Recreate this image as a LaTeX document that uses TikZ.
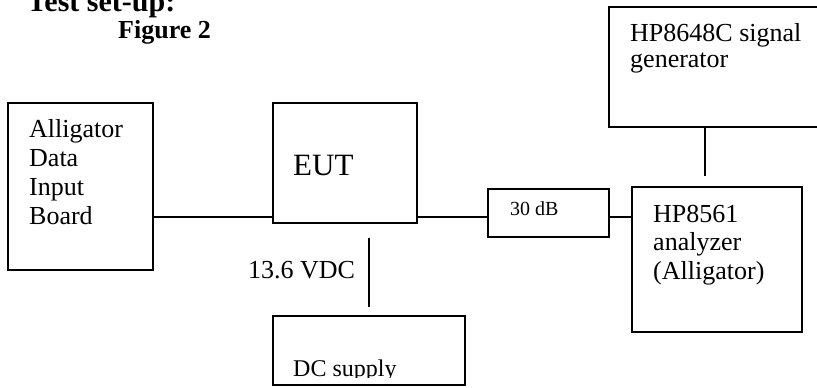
\documentclass[tikz,border=0pt]{standalone}
\usepackage{fontspec}
\setmainfont{Liberation Serif}
\usepackage{tikz}
\tikzset{blk/.style={draw,line width=1.4pt,inner sep=0pt},
txt/.style={anchor=base west,inner sep=0pt,align=left,font=\fontsize{26}{29}\selectfont},
wire/.style={line width=1.4pt}}

\begin{document}
\begin{tikzpicture}[x=1pt,y=-1pt]
\clip (0,0) rectangle (817,388);
\foreach \name/\cx/\cy/\w/\h in {board/80.5/186.5/145/167,eut/345/163/144/120,att/548.5/213/121/48,
analyzer/717/259.5/170/145,siggen/719.5/67/221/120,supply/369/350.5/192/69}
\node[blk,minimum width=\w pt,minimum height=\h pt] (\name) at (\cx,\cy) {};
\node[txt,font=\bfseries\fontsize{30}{34}\selectfont] (title) at (27,11) {Test set-up:};
\node[txt,font=\bfseries\fontsize{26}{30}\selectfont] (fig) at (118,38) {Figure 2};
\node[txt] (board-txt) at (29,224) {Alligator\\Data\\Input\\Board};
\node[txt,font=\fontsize{31}{34}\selectfont] (eut-txt) at (293,175) {EUT};
\node[txt,font=\fontsize{20}{24}\selectfont] (att-txt) at (510,215) {30 dB};
\node[txt,font=\fontsize{26}{28.5}\selectfont] (analyzer-txt) at (653,279) {HP8561\\analyzer\\(Alligator)};
\node[txt,font=\fontsize{26}{26}\selectfont] (siggen-txt) at (630,67) {HP8648C signal\\generator};
\node[txt] (vdc) at (248,278) {13.6 VDC};
\begin{scope}
\clip (supply.north west) rectangle (supply.east |- 0,377.5);
\node[txt,font=\fontsize{24}{28}\selectfont] (supply-txt) at (293,376) {DC supply};
\end{scope}
\coordinate (link) at (0,217);
\draw[wire] (board.east |- link) -- (eut.west |- link);
\draw[wire] (eut.east |- link) -- (att.west |- link);
\draw[wire] (att.east |- link) -- (analyzer.west |- link);
\coordinate (gen-end) at (705,176);
\draw[wire] (siggen.south -| gen-end) -- (gen-end);
\coordinate (dc-top) at ([yshift=-14pt]eut.south -| supply.north);
\coordinate (dc-end) at ([yshift=8pt]supply.north);
\draw[wire] (dc-top) -- (dc-end);
\end{tikzpicture}
\end{document}
